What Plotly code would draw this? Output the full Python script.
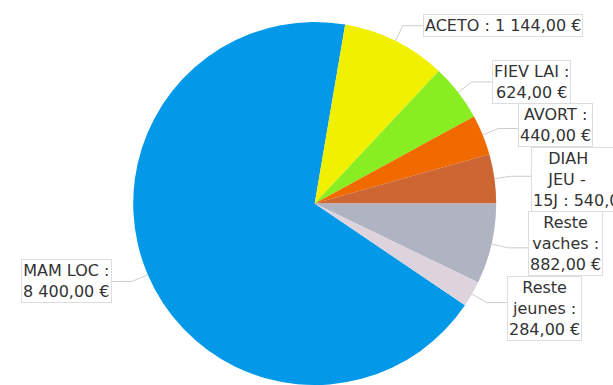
import math
import plotly.graph_objects as go

# Cost breakdown per item (euros)
labels = ["MAM LOC", "ACETO", "FIEV LAI", "AVORT", "DIAH JEU - 15J", "Reste vaches", "Reste jeunes"]
values = [8400.00, 1144.00, 624.00, 440.00, 540.00, 882.00, 284.00]
colors = ["#0399E8", "#F0F000", "#88EE22", "#F06A00", "#CC6633", "#B0B4C2", "#DDD3DD"]
# Text shown in each label box (line breaks as rendered)
label_texts = [
    "MAM LOC :<br>8 400,00 €",
    "ACETO : 1 144,00 €",
    "FIEV LAI :<br>624,00 €",
    "AVORT :<br>440,00 €",
    "\u00a0\u00a0\u00a0DIAH<br>\u00a0\u00a0\u00a0JEU -<br>15J : 540,00 €",
    "Reste<br>vaches :<br>882,00 €",
    "Reste<br>jeunes :<br>284,00 €",
]
label_align = ["center", "center", "center", "center", "left", "center", "center"]
# vertical nudge of each label box (pixels) so neighbouring boxes don't hide each other
label_shift = [0, 0, 0, -3, 3, -4, 6]

W, H = 613, 385
CX, CY, R = 314.7, 203.5, 181.5      # pie centre / radius in pixels
START = 124.1                         # first slice start, degrees clockwise from 12 o'clock
ELBOW = 17                            # radial length of leader line
ARM = 20                              # horizontal length of leader line


def px(x):
    return x / W


def py(y):
    return 1 - y / H


fig = go.Figure(go.Pie(
    labels=labels,
    values=values,
    sort=False,
    direction="clockwise",
    rotation=START,
    marker=dict(colors=colors, line=dict(width=0)),
    textinfo="none",
    hoverinfo="label+value",
    showlegend=False,
    domain=dict(x=[px(CX - R), px(CX + R)], y=[0, py(CY - R)]),
))

total = sum(values)
shapes = []
annotations = []
acc = 0.0
for lab, val, txt, al, dy in zip(labels, values, label_texts, label_align, label_shift):
    mid = math.radians(START + (acc + val / 2) / total * 360)
    acc += val
    s, c = math.sin(mid), math.cos(mid)
    x0, y0 = CX + R * s, CY - R * c
    x1, y1 = CX + (R + ELBOW) * s, CY - (R + ELBOW) * c
    side = 1 if s >= 0 else -1
    x2 = x1 + side * ARM
    shapes.append(dict(
        type="path", xref="paper", yref="paper",
        path=f"M {px(x0)} {py(y0)} L {px(x1)} {py(y1)} L {px(x2)} {py(y1)}",
        line=dict(color="#CCCCCC", width=1),
    ))
    annotations.append(dict(
        xref="paper", yref="paper", x=px(x2), y=py(y1 + dy),
        xanchor="left" if side > 0 else "right", yanchor="middle",
        text=txt, showarrow=False, align=al,
        font=dict(family="DejaVu Sans", size=16, color="#333333"),
        bgcolor="#FFFFFF", bordercolor="#DDDDDD", borderwidth=1, borderpad=1,
    ))

fig.update_layout(
    width=W, height=H,
    margin=dict(l=0, r=0, t=0, b=0),
    paper_bgcolor="#FFFFFF",
    shapes=shapes,
    annotations=annotations,
)

fig.write_html("out.html")
